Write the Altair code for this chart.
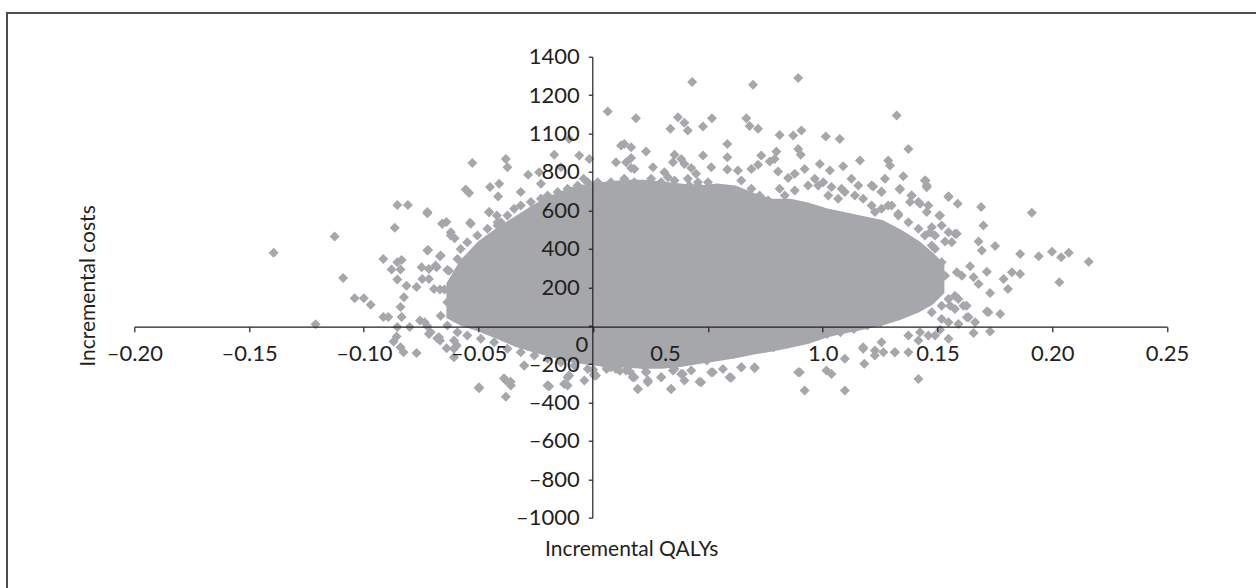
import altair as alt
import pandas as pd

# ---------------- axis ticks / labels (as printed in the figure) ----------------
X_TICKS = [-0.20, -0.15, -0.10, -0.05, 0.0, 0.05, 0.10, 0.15, 0.20, 0.25]
X_TICK_LABELS = ["–0.20", "–0.15", "–0.10", "–0.05", "0", "0.5", "1.0", "0.15", "0.20", "0.25"]
Y_TICKS = [1400, 1200, 1000, 800, 600, 400, 200, 0, -200, -400, -600, -800, -1000]
Y_TICK_LABELS = ["1400", "1200", "1100", "800", "600", "400", "200", "",
                 "–200", "–400", "–600", "–800", "–1000"]
X_TITLE = ["Incremental QALYs"]
Y_TITLE = ["Incremental costs"]

# ---------------- dense (solid) core of the cloud: lower / upper cost per QALY ----------------
CORE_Q = [-0.064, -0.058, -0.05, -0.042, -0.034, -0.026, -0.018, -0.01, -0.002, 0.006,
          0.014, 0.022, 0.03, 0.038, 0.046, 0.054, 0.062, 0.07, 0.078, 0.086,
          0.094, 0.102, 0.11, 0.118, 0.126, 0.134, 0.142, 0.148, 0.153]
CORE_LOW = [40, 0, -30, -70, -110, -140, -165, -190, -205, -215,
            -220, -225, -225, -215, -200, -185, -170, -150, -135, -115,
            -95, -60, -40, -20, 0, 30, 70, 110, 170]
CORE_HIGH = [220, 340, 440, 510, 570, 630, 680, 720, 740, 750,
             760, 760, 750, 740, 730, 740, 730, 690, 660, 660,
             640, 610, 590, 570, 550, 500, 440, 380, 320]

# ---------------- individual simulations outside / on the edge of the solid core ----------------
PTS_Q = [
    -0.1393, -0.1127, -0.109, -0.121, -0.104, -0.100, -0.097, -0.0915, -0.0893, -0.0854,
    -0.0808, -0.0865, -0.0915, -0.0854, -0.0835, -0.0879, -0.084, -0.0854, -0.0814, -0.077,
    -0.0825, -0.084, -0.0835, -0.0854, -0.080, -0.0857, -0.087, -0.084, -0.0827, -0.077,
    -0.0723, -0.072, -0.0668, -0.0748, -0.0716, -0.0683, -0.0658, -0.064, -0.0621, -0.0604,
    -0.0636, -0.0745, -0.0716, -0.0694, -0.0668, -0.0648, -0.0636, -0.0755, -0.0735, -0.0723,
    -0.0716, -0.068, -0.0668, -0.0607, -0.0595, -0.0639, -0.0607, -0.0527, -0.0556, -0.0541,
    -0.0537, -0.045, -0.041, -0.0415, -0.0381, -0.0374, -0.0454, -0.042, -0.0403, -0.0498,
    -0.0389, -0.036, -0.0381, -0.0316, -0.0284, -0.0236, -0.0228, -0.017, -0.0141, -0.0105,
    -0.0061, -0.0017, -0.0042, 0.0063, 0.0186, 0.0099, 0.0135, 0.0165, -0.0286, -0.0301,
    -0.0199, -0.0112, -0.0112, 0.0004, 0.0055, 0.0077, 0.0172, 0.0194,
    -0.0723, -0.0658, -0.0621, -0.0534, -0.0454, -0.0417, -0.0665, -0.0723, -0.0687, -0.0629,
    -0.0592,
    -0.0709, -0.0672, -0.0607, -0.0498, -0.0381, -0.0359, -0.0301, -0.0199, -0.0127, -0.0039,
    0.0004,
    -0.0192, -0.0105, 0.0012,
    0.0063, 0.0099, 0.0143, 0.0179, 0.023, 0.0238, 0.0194, 0.0296, 0.0339, 0.0347,
    0.039, 0.0397, 0.047, 0.0514, 0.0565, 0.0601, 0.0645, 0.0703, 0.0893,
    0.0121, 0.0143, 0.0165, 0.0179, 0.0165,
    0.0431, 0.0696, 0.0893, 0.1322, 0.0369, 0.0397, 0.0412, 0.0336, 0.0478, 0.0517,
    0.0667, 0.0681, 0.0718, 0.0812, 0.0871, 0.0907, 0.1013, 0.1074, 0.0584, 0.0584,
    0.0584, 0.023, 0.0354, 0.0347, 0.0383, 0.0397, 0.0427, 0.026, 0.031, 0.0325,
    0.0478, 0.0514, 0.05, 0.0448, 0.0455, 0.0419, 0.0383,
    0.063, 0.0689, 0.0718, 0.0732, 0.0769, 0.0798, 0.079, 0.0805, 0.0849, 0.0878,
    0.0893, 0.0904, 0.0921, 0.0987, 0.1031, 0.1089, 0.1162, 0.0965, 0.1002, 0.1038,
    0.1082, 0.1125, 0.1155, 0.1285, 0.1293, 0.1373, 0.1351, 0.1213, 0.1256, 0.1271,
    0.1336, 0.1387, 0.1445, 0.1453, 0.1453, 0.1417, 0.1508, 0.1548, 0.1588, 0.169,
    0.17, 0.1475, 0.1489, 0.1533, 0.1576, 0.1679, 0.1693, 0.1751, 0.1642, 0.1657,
    0.1715, 0.1679, 0.1729, 0.1584, 0.1606, 0.1576, 0.1555, 0.1613, 0.1722, 0.1628,
    0.1664, 0.1657, 0.1729, 0.1511, 0.146, 0.1417, 0.1373, 0.1314, 0.1417, 0.1264,
    0.1227, 0.1181, 0.1176, 0.1038, 0.1096, 0.1016, 0.0921, 0.09, 0.0645, 0.0703,
    0.0594, 0.0521, 0.0463, 0.0383, 0.0339, 0.0238, 0.0296, 0.023, 0.0427, 0.0354,
    0.1911, 0.186, 0.1941, 0.1999, 0.2039, 0.2072, 0.2159, 0.2031, 0.1788, 0.1824,
    0.186, 0.1807, 0.1715, 0.1773,
    0.122, 0.1256, 0.1336, 0.1387, 0.1448, 0.1453, 0.1548,
    0.1227, 0.1285, 0.1329, 0.138, 0.1424, 0.146, 0.1511, 0.1518, 0.1467, 0.1562,
    0.1548, 0.1584, 0.1431, 0.1475,
    0.1431, 0.1475, 0.1518, 0.1548, 0.1591, 0.1576, 0.1627, 0.1475, 0.1518, 0.1548,
    0.1591, 0.1635, 0.1548, 0.1489, 0.1424, 0.1373, 0.1314, 0.1256, 0.1227, 0.1176,
    0.1096,
    # upper edge of the dense mass (right half)
    0.0558, 0.0645, 0.0689, 0.0725, 0.0762, 0.0812, 0.0834, 0.0878, 0.0936, 0.098,
    0.1024, 0.1067, 0.1096, 0.114, 0.1176, 0.1213, 0.1256, 0.13, 0.1329, 0.1373,
    0.1417, 0.1445, 0.1489, 0.1518, 0.1533,
    0.0252, 0.0296, 0.0354, 0.0412, 0.0456, 0.0296,
    # lower edge of the dense mass (right half)
    0.0, 0.0058, 0.0116, 0.0160, 0.0218, 0.0276, 0.0335, 0.0379, 0.0437, 0.0495,
    0.0553, 0.0612, 0.0670, 0.0728, 0.0786, 0.0845, 0.0903, 0.0961, 0.1019, 0.1077,
    0.1136, 0.1194, 0.1252, 0.1296,
    # upper-left diagonal edge
    -0.0578, -0.0549, -0.0505, -0.0461, -0.0417, -0.0374, -0.0345, -0.0316, -0.0272, -0.0228,
    -0.0199, -0.0155, -0.0112, -0.0068, -0.0024, 0.0019, 0.0077, 0.0135, 0.0179,
    # lower-left edge
    -0.0665, -0.0636, -0.0592, -0.0549, -0.049, -0.0432, -0.0374, -0.0316, -0.0257, -0.0199,
    -0.0141, -0.0083, -0.0024,
]
PTS_C = [
    379, 464, 248, 7, 143, 143, 108, 45, 45, 628,
    628, 510, 347, 330, 342, 292, 292, 240, 208, 201,
    148, 97, 45, -7, -7, -57, -83, -113, -139, -142,
    585, 394, 361, 304, 295, 304, 530, 540, 469, 455,
    290, 243, 243, 191, 188, 188, 122, 26, 18, -3,
    -43, -66, -78, -78, -104, -118, -165, 847, 708, 691,
    535, 721, 738, 672, 868, 825, 590, 573, 538, -326,
    -274, -292, -370, 695, 785, 799, 738, 889, 825, 972,
    885, 868, 764, 1115, 1080, 851, 946, 929, -104, -208,
    -312, -312, -269, -252, -208, -217, -269, -330,
    591, 530, 486, 530, 591, 521, 365, 391, 313, 286,
    347,
    -34, -60, -121, -321, -286, -312, -208, -312, -304, -286,
    -260,
    -316, -260, -260,
    -217, -226, -234, -269, -243, -286, -330, -269, -330, -234,
    -252, -286, -295, -243, -226, -272, -217, -217, -243,
    938, 851, 872, 816, 820,
    1268, 1254, 1289, 1094, 1085, 1056, 1016, 1025, 1037, 1080,
    1080, 1039, 1025, 993, 990, 1016, 985, 972, 946, 877,
    813, 906, 889, 851, 868, 842, 820, 825, 799, 773,
    885, 825, 747, 790, 729, 729, 691,
    807, 816, 837, 885, 854, 906, 868, 802, 768, 790,
    920, 889, 816, 842, 807, 830, 859, 764, 747, 721,
    712, 764, 729, 859, 833, 920, 778, 729, 695, 764,
    712, 677, 755, 729, 591, 643, 573, 669, 634, 617,
    521, 512, 469, 438, 478, 438, 391, 414, 309, 252,
    281, 217, 170, 278, 260, 156, 104, 104, 70, 44,
    18, -38, -31, -21, -52, -78, -139, -139, -278, -139,
    -130, -199, -121, -252, -338, -234, -338, -243, -217, -222,
    -269, -243, -292, -252, -330, -295, -269, -240, -234, -226,
    587, 373, 361, 385, 356, 379, 333, 226, 243, 278,
    269, 191, 73, 61,
    724, 698, 708, 677, 755, 720, 674,
    591, 625, 582, 643, 634, 625, 573, 521, 486, 434,
    486, 478, 382, 417,
    139, 156, 104, 139, 139, 87, 104, 70, 35, 18,
    9, 44, -69, -52, -34, -52, -139, -87, -156, -112,
    -173,
    677, 755, 712, 677, 651, 712, 677, 703, 729, 729,
    677, 660, 695, 677, 660, 625, 608, 625, 573, 538,
    504, 469, 400, 330, 260,
    764, 747, 755, 764, 747, 677,
    -230, -226, -235, -240, -208, -191, -199, -182, -173, -182,
    -156, -147, -130, -121, -113, -95, -69, -52, -43, -35,
    -17, 0, 18, 52,
    399, 434, 469, 504, 538, 573, 608, 625, 643, 660,
    677, 695, 712, 729, 747, 747, 747, 764, 747,
    52, 0, -35, -52, -69, -87, -121, -139, -156, -173,
    -191, -208, -226,
]

GREY = "#a6a7ab"
INK = "#231f20"
FONT = "Lato"

# plot-area geometry (pixels)
W, H = 1032.7, 461.0
PAD_L, PAD_T = 134.3, 56.7
X0_OFFSET = -191.0   # x axis sits at cost = 0
Y0_OFFSET = -458.0   # y axis sits at QALY = 0


def label_expr(ticks, labels):
    expr = "''"
    for t, l in reversed(list(zip(ticks, labels))):
        expr = f"abs(datum.value - ({t})) < 1e-6 ? '{l}' : {expr}"
    return expr


core = pd.DataFrame({"q": CORE_Q, "low": CORE_LOW, "high": CORE_HIGH})
pts = pd.DataFrame({"q": PTS_Q, "c": PTS_C})

xscale = alt.Scale(domain=[-0.2, 0.25], nice=False, zero=False)
yscale = alt.Scale(domain=[-1000, 1400], nice=False, zero=False)

x_axis = alt.Axis(
    values=X_TICKS, tickCount=40, labelExpr=label_expr(X_TICKS, X_TICK_LABELS), title=None,
    orient="bottom", offset=X0_OFFSET, grid=False, zindex=2,
    domainColor=INK, domainWidth=1.2, tickColor=INK, tickWidth=1.2, tickSize=5,
    labelFont=FONT, labelFontSize=22, labelColor=INK, labelFlush=False, labelOverlap=False,
    labelPadding={"condition": {"test": "abs(datum.value) < 1e-6", "value": 3}, "value": 12},
    labelOffset={"condition": [{"test": "abs(datum.value - 0.05) < 1e-6", "value": -43},
                               {"test": "abs(datum.value) < 1e-6", "value": -12}],
                 "value": 0},
)
y_axis = alt.Axis(
    values=Y_TICKS, tickCount=40, labelExpr=label_expr(Y_TICKS, Y_TICK_LABELS), title=None,
    orient="left", offset=Y0_OFFSET, grid=False, zindex=2,
    domainColor=INK, domainWidth=1.2, tickColor=INK, tickWidth=1.2, tickSize=4,
    labelFont=FONT, labelFontSize=22, labelColor=INK, labelPadding=9,
    labelFlush=False, labelOverlap=False,
)

core_layer = alt.Chart(core).mark_area(color=GREY, opacity=1).encode(
    x=alt.X("q:Q", scale=xscale, axis=x_axis),
    y=alt.Y("low:Q", scale=yscale, axis=y_axis),
    y2="high:Q",
)

pts_layer = alt.Chart(pts).mark_point(
    shape="diamond", filled=True, size=100, color=GREY, opacity=1, strokeWidth=0
).encode(
    x=alt.X("q:Q", scale=xscale, title=None),
    y=alt.Y("c:Q", scale=yscale, title=None),
)

ytitle = alt.Chart(pd.DataFrame({"t": Y_TITLE})).mark_text(
    font=FONT, fontSize=21, color=INK, angle=270, align="center", baseline="middle"
).encode(text="t:N", x=alt.value(89 - PAD_L), y=alt.value(286 - PAD_T))

xtitle = alt.Chart(pd.DataFrame({"t": X_TITLE})).mark_text(
    font=FONT, fontSize=21, color=INK, align="left", baseline="alphabetic"
).encode(text="t:N", x=alt.value(545 - PAD_L), y=alt.value(556 - PAD_T))

frame = pd.DataFrame({"k": [0]})
top_border = alt.Chart(frame).mark_rule(color="#4d4d4d", strokeWidth=2).encode(
    x=alt.value(7 - PAD_L), x2=alt.value(1256 - PAD_L), y=alt.value(13 - PAD_T))
left_border = alt.Chart(frame).mark_rule(color="#4d4d4d", strokeWidth=2).encode(
    x=alt.value(7 - PAD_L), y=alt.value(12 - PAD_T), y2=alt.value(588 - PAD_T))

chart = alt.layer(core_layer, pts_layer, ytitle, xtitle, top_border, left_border).properties(
    width=W, height=H,
    padding={"left": PAD_L, "top": PAD_T, "right": 1256 - PAD_L - W, "bottom": 588 - PAD_T - H},
    autosize=alt.AutoSizeParams(type="none"),
    background="white",
).configure_view(stroke=None)

chart.save("out.html", embed_options={"renderer": "svg", "actions": False})
